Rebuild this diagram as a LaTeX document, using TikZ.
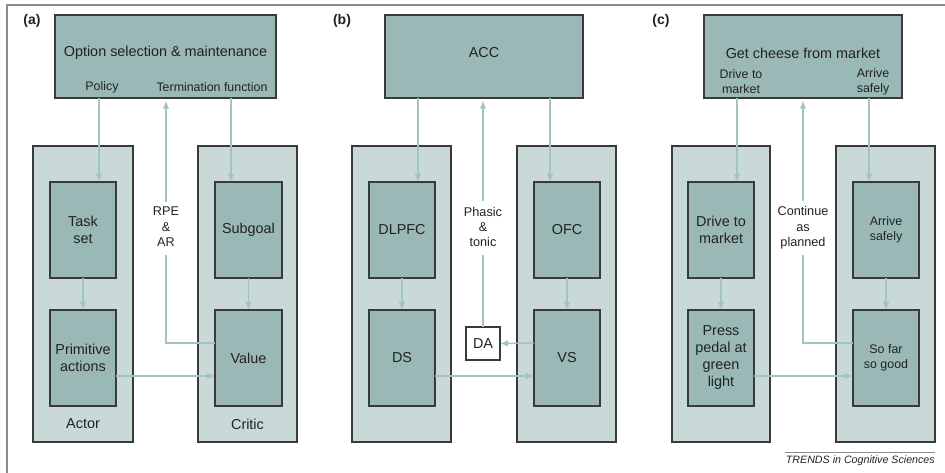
\documentclass[tikz,border=0pt]{standalone}
\usepackage{fontspec}
\setmainfont{Liberation Sans}
\usetikzlibrary{arrows.meta}
\definecolor{boxfill}{HTML}{9AB8B6}
\definecolor{outerfill}{HTML}{C9D9D7}
\definecolor{arrowc}{HTML}{A3C3C1}
\definecolor{boxline}{HTML}{3A3A3A}
\definecolor{framec}{HTML}{8C8C8C}
\definecolor{txt}{HTML}{222222}
\newcommand\fbig{\fontsize{10.8}{12.5}\selectfont}
\newcommand\fsmall{\fontsize{9.3}{11.4}\selectfont}
\newcommand\drawbx[7]{%
  \pgfmathsetmacro\bxw{(#5-#3)*0.75}%
  \pgfmathsetmacro\bxh{(#6-#4)*0.75}%
  \node[#1, minimum width=\bxw pt, minimum height=\bxh pt] (#2) at ({(#3+#5)/2},{(#4+#6)/2}) {#7};}
\begin{document}
\begin{tikzpicture}[x=0.75pt,y=-0.75pt,
  mainbox/.style={draw=boxline, fill=boxfill, line width=0.8pt, inner sep=0pt, outer sep=0pt, align=center, text=txt, font=\fbig},
  outerbox/.style={draw=boxline, fill=outerfill, line width=0.8pt, inner sep=0pt, outer sep=0pt},
  dabox/.style={draw=boxline, fill=white, line width=0.8pt, inner sep=0pt, outer sep=0pt, text=txt, font=\fbig},
  lbl/.style={inner sep=0pt, align=center, text=txt, font=\fsmall},
  biglbl/.style={inner sep=0pt, align=center, text=txt, font=\fbig},
  panel/.style={inner sep=0pt, text=txt, font=\fontsize{10.5}{12}\selectfont\bfseries},
  conn/.style={draw=arrowc, line width=1.1pt, -{Latex[length=6pt,width=5pt]}},
  plain/.style={draw=arrowc, line width=1.1pt}]
\useasboundingbox (0,0) rectangle (945,473);
% frame
\draw[framec, line width=1.1pt] (7,473) -- (7,5) -- (945,5);
% ---------- panel (a)
\node[panel] (pla) at (32,21) {(a)};
\drawbx{mainbox}{A}{55}{15}{276}{98}{}
\node[biglbl] (Atitle) at (165.5,53) {Option selection \& maintenance};
\node[lbl] (pol) at (102,87) {Policy};
\node[lbl] (term) at (212,87) {Termination function};
\drawbx{outerbox}{actor}{33}{146}{133}{442}{}
\drawbx{outerbox}{critic}{198}{146}{297}{442}{}
\drawbx{mainbox}{ts}{50}{182}{116}{278}{Task\\set}
\drawbx{mainbox}{sg}{215}{182}{282}{278}{Subgoal}
\drawbx{mainbox}{pa}{50}{310}{116}{406}{Primitive\\actions}
\drawbx{mainbox}{val}{215}{310}{282}{406}{Value}
\node[biglbl] (actl) at (83,424) {Actor};
\node[biglbl] (crtl) at (247.5,424) {Critic};
\node[lbl, font=\fontsize{9.5}{11.6}\selectfont] (rpe) at (166,227) {RPE\\\&\\AR};
\coordinate (ax1) at (99,0);
\coordinate (ax2) at (231,0);
\draw[conn] (A.south -| ax1) -- (ts.north -| ax1);
\draw[conn] (A.south -| ax2) -- (sg.north -| ax2);
\draw[conn] ([yshift=4pt]rpe.north) -- ([yshift=-2pt]A.south -| rpe);
\draw[plain] ([yshift=-6pt]rpe.south) |- ([yshift=11.25pt]val.west);
\draw[conn] (ts) -- (pa);
\draw[conn] (sg) -- (val);
\draw[conn] ([yshift=-13.5pt]pa.east) -- ([yshift=-13.5pt]val.west);
% ---------- panel (b)
\node[panel] (plb) at (342,21) {(b)};
\drawbx{mainbox}{B}{385}{15}{583}{98}{}
\node[biglbl] (acc) at (484,53) {ACC};
\drawbx{outerbox}{bl}{352}{146}{451}{442}{}
\drawbx{outerbox}{br}{517}{146}{616}{442}{}
\drawbx{mainbox}{dl}{369}{182}{435}{278}{DLPFC}
\drawbx{mainbox}{ofc}{534}{182}{600}{278}{OFC}
\drawbx{mainbox}{ds}{369}{310}{435}{406}{DS}
\drawbx{mainbox}{vs}{534}{310}{600}{406}{VS}
\drawbx{dabox}{da}{466}{327}{500}{360}{DA}
\node[lbl, font=\fontsize{9.5}{11.6}\selectfont] (ph) at (483,227) {Phasic\\\&\\tonic};
\coordinate (bx1) at (418,0);
\coordinate (bx2) at (550,0);
\draw[conn] (B.south -| bx1) -- (dl.north -| bx1);
\draw[conn] (B.south -| bx2) -- (ofc.north -| bx2);
\draw[conn] ([yshift=4pt]ph.north) -- ([yshift=-2pt]B.south -| ph);
\draw[plain] ([yshift=-6pt]ph.south) -- (da.north);
\draw[conn] (dl) -- (ds);
\draw[conn] (ofc) -- (vs);
\draw[conn] ([yshift=11.25pt]vs.west) -- (da.east);
\draw[conn] ([yshift=-13.5pt]ds.east) -- ([yshift=-13.5pt]vs.west);
% ---------- panel (c)
\node[panel] (plc) at (661,21) {(c)};
\drawbx{mainbox}{C}{704}{15}{902}{98}{}
\node[biglbl] (Ctitle) at (803,53) {Get cheese from market};
\node[lbl, font=\fontsize{9.3}{11.25}\selectfont] (dtm) at (741,81.5) {Drive to\\market};
\node[lbl, font=\fontsize{9.3}{11.25}\selectfont] (ars) at (873,81.5) {Arrive\\safely};
\drawbx{outerbox}{cl}{672}{146}{770}{442}{}
\drawbx{outerbox}{cr}{836}{146}{935}{442}{}
\drawbx{mainbox}{dm}{688}{182}{754}{278}{Drive to\\market}
\drawbx{mainbox, font=\fontsize{9.3}{11.25}\selectfont}{as}{853}{182}{919}{278}{Arrive\\safely}
\drawbx{mainbox, font=\fontsize{10.8}{12.75}\selectfont}{pp}{688}{310}{754}{406}{Press\\pedal at\\green\\light}
\drawbx{mainbox, font=\fontsize{9.3}{11.25}\selectfont}{sf}{853}{310}{919}{406}{So far\\so good}
\node[lbl, font=\fontsize{9.5}{11.6}\selectfont] (cap) at (803,228) {Continue\\as\\planned};
\coordinate (cx1) at (737,0);
\coordinate (cx2) at (869,0);
\draw[conn] (C.south -| cx1) -- (dm.north -| cx1);
\draw[conn] (C.south -| cx2) -- (as.north -| cx2);
\draw[conn] ([yshift=4pt]cap.north) -- ([yshift=-2pt]C.south -| cap);
\draw[plain] ([yshift=-4pt]cap.south) |- ([yshift=11.25pt]sf.west);
\draw[conn] (dm) -- (pp);
\draw[conn] (as) -- (sf);
\draw[conn] ([yshift=-13.5pt]pp.east) -- ([yshift=-13.5pt]sf.west);
% footer
\draw[framec, line width=0.6pt] (785,452) -- (935,452);
\node[anchor=east, inner sep=0pt, text=txt, font=\fontsize{8}{9}\selectfont\itshape] (foot) at (935,461) {TRENDS in Cognitive Sciences};
\end{tikzpicture}
\end{document}
